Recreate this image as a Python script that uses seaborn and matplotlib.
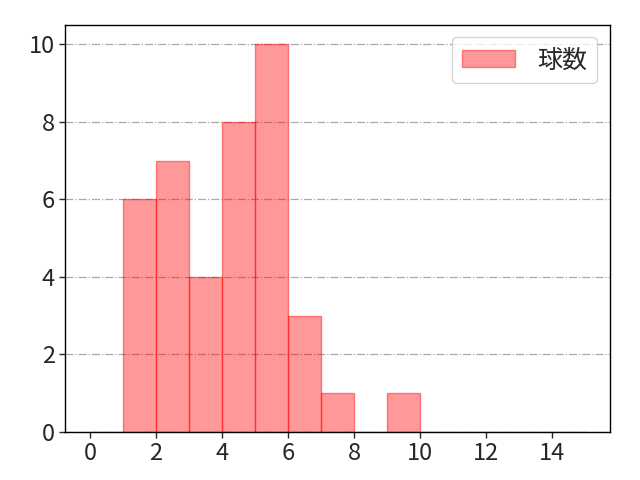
import numpy as np
import pandas as pd
import matplotlib
matplotlib.use("Agg")
import matplotlib.pyplot as plt
import seaborn as sns

# histogram bins (left edge) and counts
bin_left = [0, 1, 2, 3, 4, 5, 6, 7, 8, 9, 10, 11, 12, 13, 14]
counts = [0, 6, 7, 4, 8, 10, 3, 1, 0, 1, 0, 0, 0, 0, 0]
bin_edges = list(range(0, 16))

sns.set_style("white")
plt.rcParams['font.family'] = ['Noto Sans CJK JP', 'DejaVu Sans']
plt.rcParams['font.size'] = 17

df = pd.DataFrame({"x": np.array(bin_left) + 0.5, "n": counts})

fig, ax = plt.subplots(figsize=(6.4, 4.8), dpi=100)
sns.histplot(data=df, x="x", weights="n", bins=bin_edges, color="red",
             alpha=0.4, edgecolor=(1, 0, 0, 0.45), linewidth=1, label="球数", ax=ax)
ax.set_xlabel("")
ax.set_ylabel("")
ax.grid(axis="y", linestyle="-.", color="#aaaaaa", linewidth=0.9)
ax.set_axisbelow(True)
ax.set_xticks(range(0, 16, 2))
for s in ax.spines.values():
    s.set_color("black")
    s.set_linewidth(1)
ax.tick_params(axis="both", length=4, width=1, direction="out", bottom=True, left=True)
ax.legend(loc="upper right", fontsize=18, handlelength=2.1, handletextpad=0.9)
fig.subplots_adjust(left=0.102, right=0.953, top=0.948, bottom=0.1)
fig.savefig("out.png", dpi=100)
